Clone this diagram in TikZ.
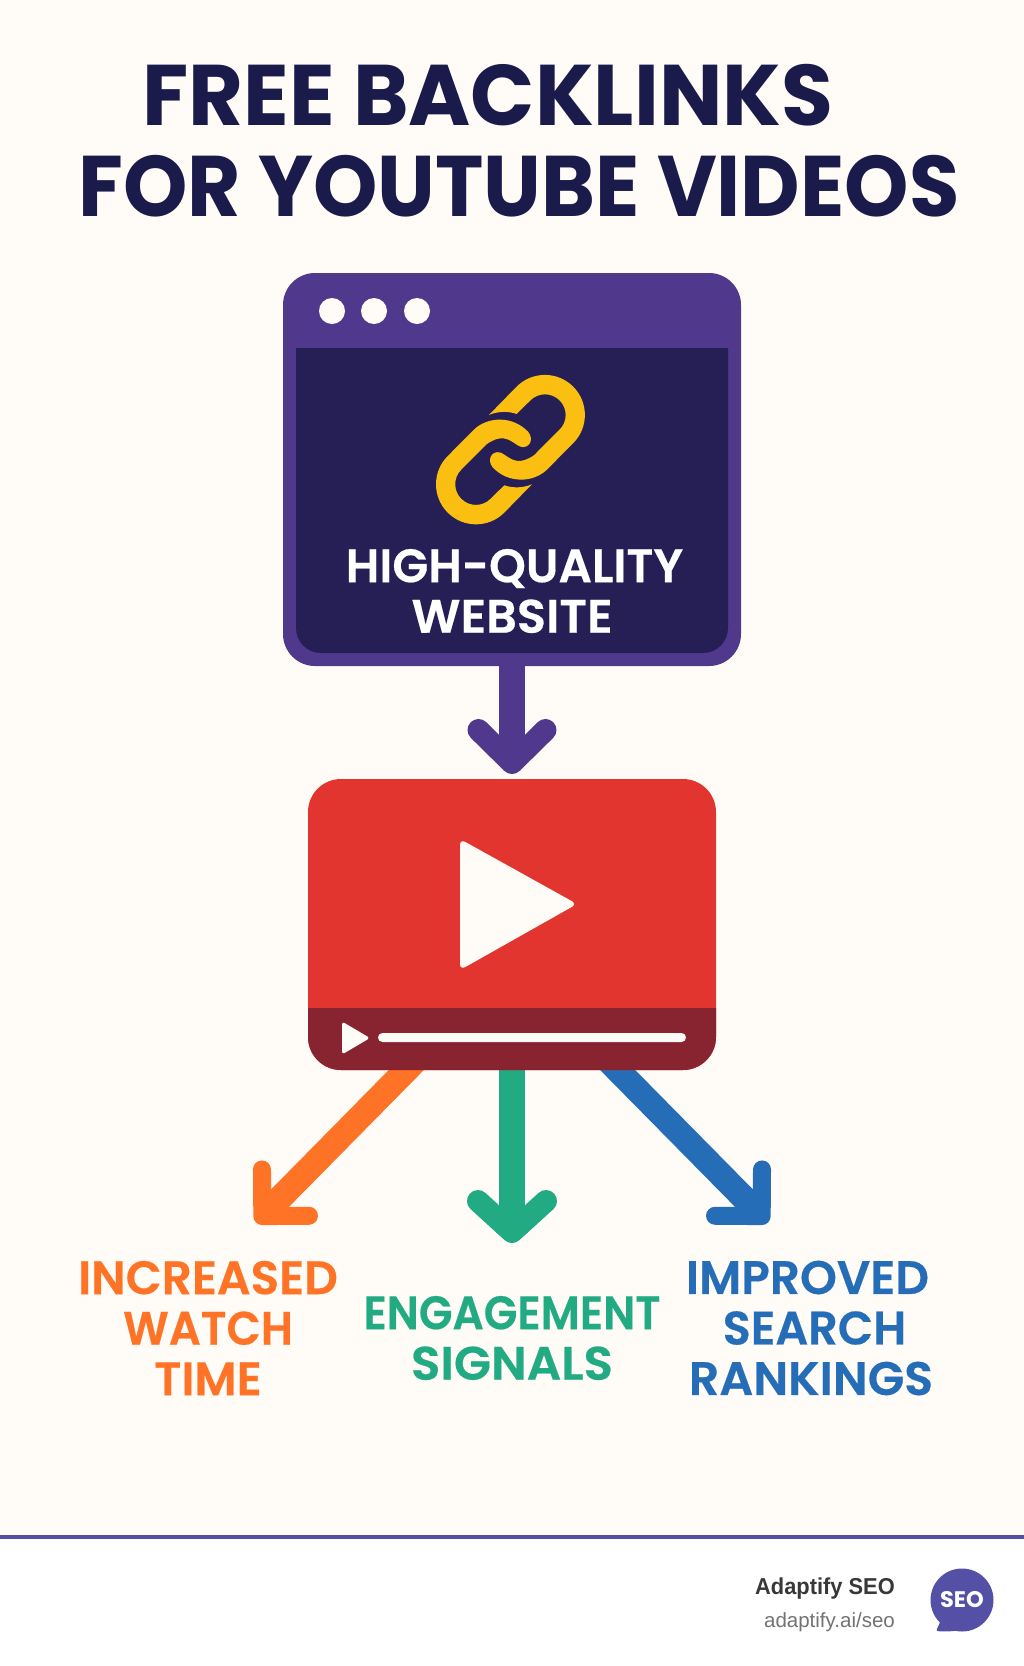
\documentclass[tikz,border=0pt]{standalone}
\usepackage{fontspec}
\usepackage{graphicx}
\usetikzlibrary{arrows.meta,calc,backgrounds}
\setmainfont{Poppins}[BoldFont=* Bold]
\newfontfamily\lblfont{Poppins}[UprightFont=* SemiBold,FakeBold=0.4]
\newfontfamily\ftfont{Liberation Sans}
\newcommand{\sx}[2]{\scalebox{#1}[1]{#2}}
\definecolor{pagebg}{HTML}{FFFCF8}
\definecolor{titleink}{HTML}{1A1B4B}
\definecolor{winpurple}{HTML}{50388C}
\definecolor{panelink}{HTML}{261F55}
\definecolor{linkgold}{HTML}{FBBF12}
\definecolor{vidred}{HTML}{E33530}
\definecolor{viddark}{HTML}{882330}
\definecolor{orangeink}{HTML}{FE7325}
\definecolor{greenink}{HTML}{22AB82}
\definecolor{blueink}{HTML}{266DB8}
\definecolor{footline}{HTML}{5350A5}
\tikzset{
  shaftline/.style={line cap=butt},
  bigtext/.style={font=\lblfont\fontsize{47}{50.5}\selectfont,align=center,inner sep=0pt},
  titletext/.style={font=\bfseries\fontsize{86}{90}\selectfont,text=titleink,inner sep=0pt,anchor=base},
}
\begin{document}
\begin{tikzpicture}[x=1pt,y=-1pt]
\useasboundingbox (0,0) rectangle (1024,1666);
% title
\node[titletext] (t1) at (488,125.5) {\sx{.981}{FREE BACKLINKS}};
\node[titletext] (t2) at (519,216.5) {\sx{.952}{FOR YOUTUBE VIDEOS}};
% window
\node[fill=winpurple,rounded corners=32pt,minimum width=458pt,minimum height=393pt,inner sep=0pt] (window) at (512,469.5) {};
\fill[panelink] (296,348) -- (728,348) -- (728,628) arc[start angle=0,end angle=90,radius=25] -- (321,653) arc[start angle=90,end angle=180,radius=25] -- cycle;
\foreach \cx in {332,374,417} \fill[pagebg] (\cx,311) circle[radius=13];
% link icon
\begin{scope}[x=0.3333pt,y=-0.3333pt,shift={(810,780)}]
\foreach \rot in {0,180}{
\begin{scope}[rotate around={\rot:(721.5,569)}]
\fill[linkgold] (657,465) -- (740,380) arc[start angle=-135,end angle=45,radius=120] -- (830,630)
 .. controls (790,668) and (715,672) .. (668,622)
 .. controls (650,600) and (665,570) .. (692,578)
 .. controls (710,585) and (730,612) .. (765,600)
 .. controls (785,592) and (795,585) .. (800,578)
 -- (869,509) arc[start angle=45,end angle=-135,radius=62] -- (740,462)
 .. controls (712,452) and (680,455) .. (657,465) -- cycle;
\end{scope}}
\end{scope}
\node[bigtext,text=white] (wtext) at (514.5,591) {\sx{.995}{HIGH-QUALITY}\\\hspace*{-5pt}\sx{1.02}{WEBSITE}};
% video
\node[fill=vidred,rounded corners=33pt,minimum width=408pt,minimum height=291pt,inner sep=0pt] (video) at (512,924.5) {};
\fill[viddark] (308,1008) -- (716,1008) -- (716,1037) arc[start angle=0,end angle=90,radius=33] -- (341,1070) arc[start angle=90,end angle=180,radius=33] -- cycle;
\fill[pagebg,rounded corners=6pt] (460,839) -- (577,904) -- (460,970) -- cycle;
\fill[pagebg,rounded corners=3pt] (342,1021.5) -- (370,1038) -- (342,1054.5) -- cycle;
\fill[pagebg,rounded corners=4.5pt] (378,1033) rectangle (686,1042);
% connectors
\coordinate (purpleTip) at (512,774);
\coordinate (orangeTip) at (256,1222.5);
\coordinate (greenTip) at (512,1243);
\coordinate (blueTip) at (768,1222.5);
\begin{pgfonlayer}{background}
\fill[pagebg] (0,0) rectangle (1024,1538);
\fill[white] (0,1538) rectangle (1024,1666);
\draw[footline,line width=3.5pt] (0,1537) -- (1024,1537);
\draw[shaftline,winpurple,line width=26pt,-{Straight Barb[length=33pt,width=67pt,line width=22pt,round]}] (window.south) -- (purpleTip);
\draw[shaftline,orangeink,line width=25pt,-{Straight Barb[length=33pt,width=66pt,line width=18pt,round]}] ($(video.south)+(-96,-10)$) -- (orangeTip);
\draw[shaftline,greenink,line width=26pt,-{Straight Barb[length=31pt,width=68pt,line width=22pt,round]}] (video.south) -- (greenTip);
\draw[shaftline,blueink,line width=25pt,-{Straight Barb[length=33pt,width=66pt,line width=18pt,round]}] ($(video.south)+(96,-10)$) -- (blueTip);
\end{pgfonlayer}
% labels
\node[bigtext,text=orangeink] (lo) at (208,1328) {INCREASED\\\sx{.95}{WATCH}\\TIME};
\node[bigtext,text=greenink] (lg) at (512,1338) {\sx{.93}{ENGAGEMENT}\\\sx{1.03}{SIGNALS}};
\node[bigtext,text=blueink] (lb) at (811,1328) {\hspace*{-7pt}IMPROVED\\\hspace*{7pt}\sx{.98}{SEARCH}\\\sx{1.01}{RANKINGS}};
% footer
\node[font=\ftfont\bfseries\fontsize{23}{26}\selectfont,text=black!78,anchor=base east,inner sep=0pt] (brand) at (895,1594) {\sx{.95}{Adaptify SEO}};
\node[font=\ftfont\fontsize{20.5}{24}\selectfont,text=black!55,anchor=base east,inner sep=0pt] (url) at (895,1627) {adaptify.ai/seo};
\fill[footline] (962,1600) circle[radius=31.5];
\fill[footline,rounded corners=2pt] (942,1618) -- (936,1631) .. controls (948,1632) and (958,1631) .. (968,1628) -- cycle;
\node[font=\bfseries\fontsize{22.5}{26}\selectfont,text=white,inner sep=0pt] (seo) at (962,1600) {SEO};
\end{tikzpicture}
\end{document}
